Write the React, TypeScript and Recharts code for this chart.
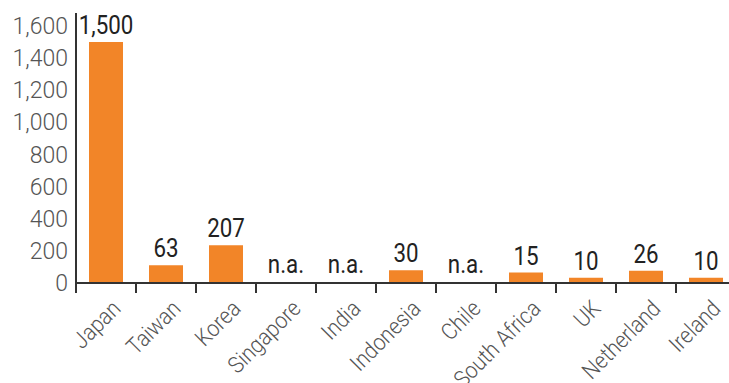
import React from "react";
import { BarChart, Bar, XAxis, YAxis, LabelList } from "recharts";

const categories = ["Japan", "Taiwan", "Korea", "Singapore", "India", "Indonesia", "Chile", "South Africa", "UK", "Netherland", "Ireland"];
const barValues = [1500, 110, 235, 0, 0, 80, 0, 65, 33, 76, 33];
const labels = ["1,500", "63", "207", "n.a.", "n.a.", "30", "n.a.", "15", "10", "26", "10"];
const yTicks = [0, 200, 400, 600, 800, 1000, 1200, 1400, 1600];

const data = categories.map((name, i) => ({ name, value: barValues[i], label: labels[i] }));

const AXIS_COLOR = "#333";
const TICK_COLOR = "#555";
const LABEL_COLOR = "#222";
const FONT = "Roboto, 'Liberation Sans', sans-serif";

const ValueText = ({ cx, baseY, value }: { cx: number; baseY: number; value: string }) => (
  <text
    transform={`translate(${cx}, ${baseY}) scale(0.86, 1)`}
    x={0}
    y={0}
    textAnchor="middle"
    fill={LABEL_COLOR}
    fontSize={26}
    fontFamily={FONT}
  >
    {value}
  </text>
);

const XTick = (props: any) => {
  const { x, y, payload, index } = props;
  const half = payload.offset ?? 30;
  const isLast = index === categories.length - 1;
  const tx = x + 16;
  const ty = y + 19;
  return (
    <g>
      <line x1={x - half} y1={y - 8} x2={x - half} y2={y + 2} stroke={AXIS_COLOR} strokeWidth={2} />
      {isLast && <line x1={x + half} y1={y - 8} x2={x + half} y2={y + 2} stroke={AXIS_COLOR} strokeWidth={2} />}
      {labels[index] === "n.a." && <ValueText cx={x} baseY={y - 18} value={labels[index]} />}
      <text
        transform={`translate(${tx}, ${ty}) rotate(-45) scale(0.9, 1)`}
        x={0}
        y={0}
        textAnchor="end"
        fill={TICK_COLOR}
        fontSize={23}
        fontWeight={300}
        fontFamily={FONT}
      >
        {payload.value}
      </text>
    </g>
  );
};

const TopLabel = (props: any) => {
  const { x, y, width, value } = props;
  if (value === "n.a.") return null;
  return <ValueText cx={x + width / 2} baseY={y - 8} value={value} />;
};

export default function App() {
  return (
    <div style={{ position: "absolute", left: 0, top: 0, width: 729, height: 383, overflow: "hidden", background: "#fff" }}>
      <BarChart
        width={740}
        height={383}
        data={data}
        margin={{ top: 13, right: 4, bottom: 0, left: 0 }}
        barCategoryGap={0}
      >
        <XAxis
          dataKey="name"
          interval={0}
          height={100}
          tickLine={false}
          axisLine={{ stroke: AXIS_COLOR, strokeWidth: 2 }}
          tick={<XTick />}
          tickMargin={0}
          tickSize={8}
        />
        <YAxis
          width={76}
          domain={[0, 1680]}
          ticks={yTicks}
          interval={0}
          tickLine={false}
          axisLine={{ stroke: AXIS_COLOR, strokeWidth: 2 }}
          tick={{ fill: TICK_COLOR, fontSize: 23, fontWeight: 300, fontFamily: FONT }}
          tickFormatter={(v: number) => v.toLocaleString("en-US")}
        />
        <Bar dataKey="value" fill="#F28528" barSize={34} isAnimationActive={false}>
          <LabelList dataKey="label" content={<TopLabel />} />
        </Bar>
      </BarChart>
    </div>
  );
}
